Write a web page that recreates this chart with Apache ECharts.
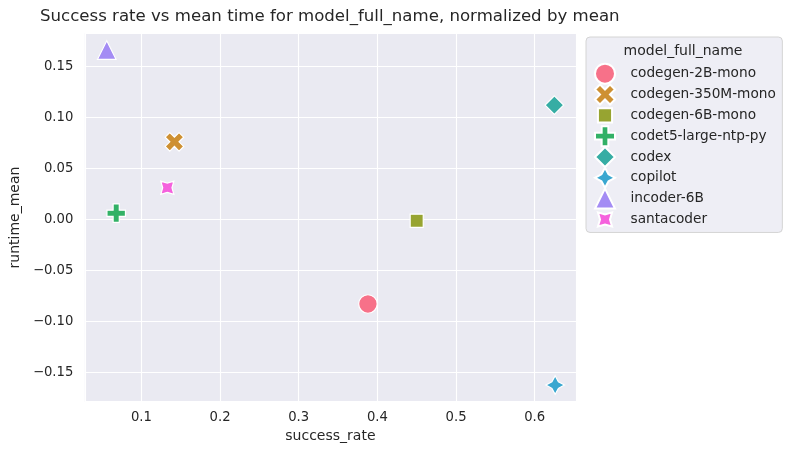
<!DOCTYPE html>
<html><head><meta charset="utf-8">
<script src="https://cdn.jsdelivr.net/npm/echarts@6/dist/echarts.min.js"></script>
<style>html,body{margin:0;padding:0;background:#fff}#c{width:791px;height:455px}</style>
</head><body><div id="c"></div>
<script>
// ---- data ----
const models = ['codegen-2B-mono','codegen-350M-mono','codegen-6B-mono','codet5-large-ntp-py','codex','copilot','incoder-6B','santacoder'];
const successRate = [0.388, 0.142, 0.450, 0.068, 0.625, 0.626, 0.056, 0.133];
const runtimeMean = [-0.083, 0.076, -0.0014, 0.006, 0.112, -0.1625, 0.166, 0.031];
const xTicks = [0.1, 0.2, 0.3, 0.4, 0.5, 0.6];
const yTicks = [-0.15, -0.10, -0.05, 0.00, 0.05, 0.10, 0.15];

// ---- styles ----
const colors = ['#f77189','#ce9032','#97a431','#32b166','#36ada4','#39a7d0','#a48cf4','#f561dd'];
const F = 'M-0.5 -0.5 M0.5 0.5 ';
const shapes = {
  circle: 'circle',
  x: 'path://' + F + 'M-0.25 -0.5 L0 -0.25 L0.25 -0.5 L0.5 -0.25 L0.25 0 L0.5 0.25 L0.25 0.5 L0 0.25 L-0.25 0.5 L-0.5 0.25 L-0.25 0 L-0.5 -0.25 Z',
  square: 'path://' + F + 'M-0.3536 -0.3536 L0.3536 -0.3536 L0.3536 0.3536 L-0.3536 0.3536 Z',
  plus: 'path://' + F + 'M-0.1667 -0.5 L0.1667 -0.5 L0.1667 -0.1667 L0.5 -0.1667 L0.5 0.1667 L0.1667 0.1667 L0.1667 0.5 L-0.1667 0.5 L-0.1667 0.1667 L-0.5 0.1667 L-0.5 -0.1667 L-0.1667 -0.1667 Z',
  diamond: 'path://' + F + 'M0 -0.5 L0.5 0 L0 0.5 L-0.5 0 Z',
  star: 'path://' + F + 'M0 -0.5 L0.1768 -0.1768 L0.5 0 L0.1768 0.1768 L0 0.5 L-0.1768 0.1768 L-0.5 0 L-0.1768 -0.1768 Z',
  triangle: 'path://' + F + 'M0 -0.5 L0.5 0.5 L-0.5 0.5 Z',
  star45: 'path://' + F + 'M0.3536 -0.3536 L0.25 0 L0.3536 0.3536 L0 0.25 L-0.3536 0.3536 L-0.25 0 L-0.3536 -0.3536 L0 -0.25 Z'
};
const markerOrder = ['circle','x','square','plus','diamond','star','triangle','star45'];
const FONT = 'DejaVu Sans';
const TXT = '#262626';

const chart = echarts.init(document.getElementById('c'), null, {renderer: 'canvas'});

function hasTick(list, v) {
  return list.some(t => Math.abs(t - v) < 1e-9);
}

const series = models.map((m, i) => ({
  type: 'scatter',
  name: m,
  data: [[successRate[i], runtimeMean[i]]],
  symbol: shapes[markerOrder[i]],
  symbolSize: 18.5,
  itemStyle: {color: colors[i], borderColor: '#ffffff', borderWidth: 1.2, opacity: 1},
  emphasis: {disabled: true},
  z: 3
}));

chart.setOption({
  animation: false,
  backgroundColor: '#ffffff',
  title: {
    text: 'Success rate vs mean time for model_full_name, normalized by mean',
    left: 40, top: 8, padding: 0,
    textStyle: {fontFamily: FONT, fontSize: 16.6, fontWeight: 'normal', color: TXT}
  },
  grid: {
    left: 82.7, right: 791 - 576, top: 33.3, bottom: 455 - 401.7,
    show: true, backgroundColor: '#eaeaf2', borderWidth: 0, containLabel: false
  },
  xAxis: {
    type: 'value', min: 0.0281, max: 0.6525,
    minInterval: 0.1, maxInterval: 0.1,
    name: 'success_rate', nameLocation: 'middle', nameGap: 28,
    nameTextStyle: {fontFamily: FONT, fontSize: 14, color: TXT},
    axisLine: {show: false}, axisTick: {show: false},
    axisLabel: {
      show: true, margin: 9.5, showMinLabel: false, showMaxLabel: false,
      fontFamily: FONT, fontSize: 13.2, color: TXT,
      formatter: v => hasTick(xTicks, v) ? v.toFixed(1) : ''
    },
    splitLine: {show: true, lineStyle: {color: '#ffffff', width: 1.1}}
  },
  yAxis: {
    type: 'value', min: -0.1788, max: 0.1824,
    minInterval: 0.05, maxInterval: 0.05,
    name: 'runtime_mean', nameLocation: 'middle', nameGap: 55.5,
    nameTextStyle: {fontFamily: FONT, fontSize: 14, color: TXT},
    axisLine: {show: false}, axisTick: {show: false},
    axisLabel: {
      show: true, margin: 11.5, showMinLabel: false, showMaxLabel: false,
      fontFamily: FONT, fontSize: 13.2, color: TXT,
      formatter: v => hasTick(yTicks, v) ? v.toFixed(2).replace('-', '\u2212') : ''
    },
    splitLine: {show: true, lineStyle: {color: '#ffffff', width: 1.1}}
  },
  legend: {
    orient: 'vertical', left: 586, top: 37,
    padding: [25.7, 6.5, 2, 8],
    itemWidth: 20, itemHeight: 20, itemGap: -1.18,
    backgroundColor: '#eeeef5', borderColor: '#d4d4d4', borderWidth: 1, borderRadius: 4,
    selectedMode: false,
    textStyle: {fontFamily: FONT, fontSize: 13.7, color: TXT, padding: [0, 0, 0, 10.5]},
    data: models
  },
  graphic: [{
    type: 'text', x: 683, y: 51.7, z: 100, silent: true,
    style: {
      text: 'model_full_name', fill: TXT,
      font: '14px "DejaVu Sans"',
      textAlign: 'center', textVerticalAlign: 'middle',
      align: 'center', verticalAlign: 'middle'
    }
  }],
  series: series
});
</script>
</body></html>
